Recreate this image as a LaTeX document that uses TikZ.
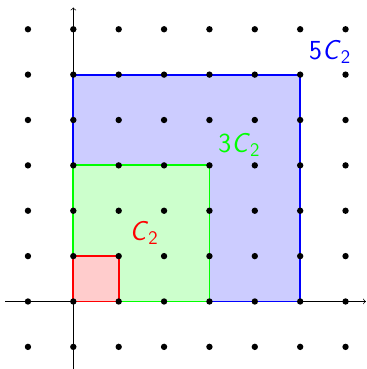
\documentclass[tikz,border=0pt]{standalone}
\usetikzlibrary{positioning}
\newcommand{\sfmult}[1]{#1\textit{C}\textsubscript{2}}
\tikzset{axis/.style={->,draw=black,line width=.4pt},
  sq/.style={line width=1.1pt},
  pt/.style={circle,fill=black,inner sep=0pt,minimum size=4pt},
  lbl/.style={font=\LARGE\sffamily}}

\begin{document}
\begin{tikzpicture}[x=1cm,y=1cm]
\useasboundingbox (-1.616,-1.488) rectangle (6.451,6.645);
\draw[axis] (-1.5,0)--(6.45,0);\draw[axis] (0,-1.55)--(0,6.48);
\filldraw[sq,draw=blue,fill=blue!20] (0,0) rectangle (5,5);
\filldraw[sq,draw=green,fill=green!20] (0,0) rectangle (3,3);
\filldraw[sq,draw=red,fill=red!20] (0,0) rectangle (1,1);
\foreach \i in {-1,...,6}{\foreach \j in {-1,...,6}{\node[pt] at (\i,\j) {};}}
\node[lbl,text=blue] (lfive) at (5.66,5.50) {\sfmult{5}};
\node[lbl,text=green] (lthree) at (3.66,3.45) {\sfmult{3}};
\node[lbl,text=red] (lone) at (1.56,1.51) {\sfmult{}};
\end{tikzpicture}
\end{document}
